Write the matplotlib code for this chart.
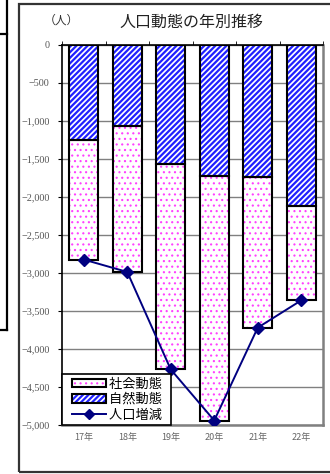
import matplotlib
matplotlib.use("Agg")
import matplotlib.pyplot as plt
from matplotlib.patches import Rectangle
from matplotlib.lines import Line2D
from matplotlib.legend_handler import HandlerBase
import numpy as np

categories = ["17年", "18年", "19年", "20年", "21年", "22年"]
natural = [-1257, -1072, -1564, -1730, -1739, -2121]   # 自然動態
social = [-1569, -1917, -2706, -3211, -1982, -1241]    # 社会動態
total = [-2826, -2989, -4270, -4941, -3721, -3362]     # 人口増減
yticks = [0, -500, -1000, -1500, -2000, -2500, -3000, -3500, -4000, -4500, -5000]
legend_labels = ["社会動態", "自然動態", "人口増減"]

plt.rcParams['font.family'] = ['Noto Sans CJK JP', 'DejaVu Sans']

BLUE = '#2020ff'
PINK = '#ff40ff'
NAVY = '#000080'

W, H = 330, 474
fig = plt.figure(figsize=(W / 100, H / 100), dpi=100)

def fx(px):
    return px / W

def fy(py):
    return 1 - py / H

# outer decorations
fig.add_artist(Line2D([fx(7), fx(7)], [fy(0), fy(330)], color='black', lw=1.6))
fig.add_artist(Line2D([fx(0), fx(7)], [fy(34), fy(34)], color='black', lw=1.6))
fig.add_artist(Line2D([fx(0), fx(7)], [fy(330), fy(330)], color='black', lw=1.6))
fig.add_artist(Rectangle((fx(19), fy(472)), fx(400), fy(4) - fy(472), fill=False,
                         edgecolor='#333333', lw=1.6))

ax = fig.add_axes([fx(62), fy(425), fx(323) - fx(62), fy(44.5) - fy(425)])
x = np.arange(len(categories))
bw = 0.66

NAT_HATCH, NAT_HLW = '//////', 1.6
SOC_HATCH, SOC_HLW = '...', 0.8

with plt.rc_context({'hatch.linewidth': NAT_HLW}):
    ax.bar(x, natural, width=bw, color='white', edgecolor=BLUE, hatch=NAT_HATCH, lw=0, zorder=2)
ax.bar(x, natural, width=bw, fill=False, edgecolor='black', lw=1.5, zorder=3)
with plt.rc_context({'hatch.linewidth': SOC_HLW}):
    ax.bar(x, social, bottom=natural, width=bw, color='white', edgecolor=PINK, hatch=SOC_HATCH,
           lw=0, zorder=2)
ax.bar(x, social, bottom=natural, width=bw, fill=False, edgecolor='black', lw=1.5, zorder=3)

ax.plot(x, total, color=NAVY, lw=1.4, marker='D', markersize=6, zorder=4)

ax.set_xlim(-0.5, 5.5)
ax.set_ylim(-5000, 0)
ax.set_yticks(yticks)
ax.set_yticklabels([f"{v:,}".replace('-', '\u2212') for v in yticks],
                   fontfamily='Liberation Serif', fontsize=7.3, color='#555555')
ax.yaxis.grid(True, color='#808080', lw=1, zorder=0)
ax.set_axisbelow(True)

ax.set_xticks(x)
ax.set_xticklabels(categories, fontsize=6.5, color='#666666')
ax.tick_params(axis='x', which='major', length=0, pad=6)
ax.set_xticks(np.arange(-0.5, 6.0, 1.0), minor=True)
ax.tick_params(axis='x', which='minor', top=True, bottom=False, direction='out', length=3,
               color='black')
ax.tick_params(axis='y', length=3, color='black', pad=6)

for s in ['left', 'top']:
    ax.spines[s].set_color('black')
    ax.spines[s].set_linewidth(1.2)
for s in ['right', 'bottom']:
    ax.spines[s].set_color('#808080')
    ax.spines[s].set_linewidth(1.8)

fig.text(fx(191), fy(22), "人口動態の年別推移", ha='center', va='center', fontsize=11.5,
         color='#222222')
fig.text(fx(61), fy(20), "（人）", ha='center', va='center', fontsize=8.5, color='#333333')

OFFSET = 7  # px of left inset for legend handles


class HatchBox(HandlerBase):
    def __init__(self, color, hatch, hlw):
        super().__init__()
        self.color, self.hatch, self.hlw = color, hatch, hlw

    def create_artists(self, legend, orig_handle, xdescent, ydescent, width, height,
                       fontsize, trans):
        off = OFFSET * 72 / fig.dpi
        with plt.rc_context({'hatch.linewidth': self.hlw}):
            r1 = Rectangle((-xdescent + off, -ydescent), width - off, height, facecolor='white',
                           edgecolor=self.color, hatch=self.hatch, lw=0, transform=trans)
        r2 = Rectangle((-xdescent + off, -ydescent), width - off, height, fill=False,
                       edgecolor='black', lw=1.5, transform=trans)
        return [r1, r2]


class LineMark(HandlerBase):
    def create_artists(self, legend, orig_handle, xdescent, ydescent, width, height,
                       fontsize, trans):
        off = OFFSET * 72 / fig.dpi
        y = -ydescent + height / 2
        x0, x1 = -xdescent + off, -xdescent + width
        l = Line2D([x0, x1], [y, y], color=NAVY, lw=1.4, transform=trans)
        m = Line2D([(x0 + x1) / 2], [y], color=NAVY, marker='D', markersize=5.5, lw=0,
                   transform=trans)
        return [l, m]


h_soc = Rectangle((0, 0), 1, 1)
h_nat = Rectangle((0, 0), 1, 1)
h_line = Line2D([], [])
leg = ax.legend([h_soc, h_nat, h_line], [t + "  " for t in legend_labels], loc='lower left',
                bbox_to_anchor=(0, 0), borderaxespad=0, fontsize=9.5, frameon=True,
                fancybox=False, edgecolor='black', framealpha=1, handlelength=3.05,
                handleheight=0.6, handletextpad=0.25, labelspacing=0.2, borderpad=0.25,
                handler_map={h_soc: HatchBox(PINK, SOC_HATCH, SOC_HLW),
                             h_nat: HatchBox(BLUE, NAT_HATCH, NAT_HLW),
                             h_line: LineMark()})
leg.get_frame().set_linewidth(1.2)
leg.set_zorder(6)

fig.savefig("out.png", dpi=100)
